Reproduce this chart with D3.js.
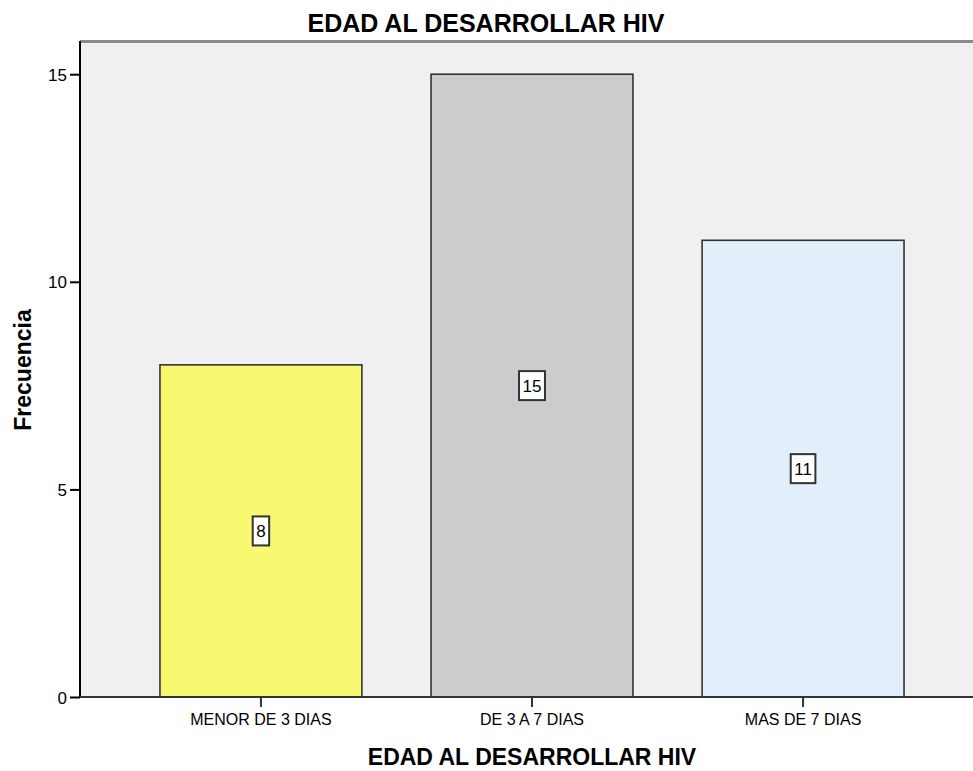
<!DOCTYPE html>
<html>
<head>
<meta charset="utf-8">
<script src="https://cdn.jsdelivr.net/npm/d3@7/dist/d3.min.js"></script>
<style>
  body { margin: 0; background: #fff; }
  svg text { font-family: "Liberation Sans", Arial, sans-serif; fill: #000; }
</style>
</head>
<body>
<svg id="chart" width="973" height="771"></svg>
<script>
const categories = ["MENOR DE 3 DIAS", "DE 3 A 7 DIAS", "MAS DE 7 DIAS"];
const counts = [8, 15, 11];
const barColors = ["#f9f871", "#cccccc", "#e2eefa"];
const yTicks = [0, 5, 10, 15];

const margin = { top: 41, right: -11, bottom: 74, left: 80 };
const width = 973 - margin.left - margin.right;
const height = 771 - margin.top - margin.bottom;

const svg = d3.select("#chart");
const g = svg.append("g").attr("transform", `translate(${margin.left},${margin.top})`);

const x = d3.scaleBand().domain(categories).range([0, width]).paddingInner(0.255).paddingOuter(0.295);
const y = d3.scaleLinear().domain([0, 15.8]).range([height, 0]);

// plot background
g.append("rect").attr("width", width).attr("height", height).attr("fill", "#f0f0f0");
g.append("line").attr("x1", 0).attr("x2", width).attr("y1", 0.5).attr("y2", 0.5)
  .attr("stroke", "#8a8a8a").attr("stroke-width", 3);

// bars
g.selectAll("rect.bar")
  .data(counts)
  .join("rect")
  .attr("class", "bar")
  .attr("x", (d, i) => x(categories[i]))
  .attr("y", (d) => y(d))
  .attr("width", x.bandwidth())
  .attr("height", (d) => height - y(d))
  .attr("fill", (d, i) => barColors[i])
  .attr("stroke", "#333")
  .attr("stroke-width", 1.6);

// value labels
const labels = g.selectAll("g.lbl")
  .data(counts)
  .join("g")
  .attr("class", "lbl")
  .attr("transform", (d, i) => `translate(${x(categories[i]) + x.bandwidth() / 2},${y(d / 2)})`);

labels.append("text")
  .attr("text-anchor", "middle")
  .attr("dy", "0.36em")
  .attr("font-size", 17)
  .text((d) => d)
  .each(function () {
    const b = this.getBBox();
    d3.select(this.parentNode).insert("rect", "text")
      .attr("x", b.x - 3.5).attr("y", -14.5)
      .attr("width", b.width + 7).attr("height", 29)
      .attr("fill", "#fff").attr("stroke", "#333").attr("stroke-width", 2);
  });

// axes
const yAxis = g.append("g").call(d3.axisLeft(y).tickValues(yTicks).tickSize(10).tickFormat(d3.format("d")));
yAxis.select(".domain").remove();
yAxis.selectAll(".tick line").attr("stroke", "#000").attr("stroke-width", 2);
yAxis.selectAll(".tick text").attr("font-size", 17).attr("x", -13).attr("dy", "0.36em")
  .style("font-family", "Liberation Sans, Arial, sans-serif");

const xAxis = g.append("g").attr("transform", `translate(0,${height})`)
  .call(d3.axisBottom(x).tickSize(10));
xAxis.select(".domain").remove();
xAxis.selectAll(".tick line").attr("stroke", "#333").attr("stroke-width", 2);
xAxis.selectAll(".tick text").attr("font-size", 16).attr("y", 28).attr("dy", 0)
  .style("font-family", "Liberation Sans, Arial, sans-serif");

g.append("line").attr("x1", 0).attr("x2", 0).attr("y1", 0).attr("y2", height)
  .attr("stroke", "#000").attr("stroke-width", 2);
g.append("line").attr("x1", 0).attr("x2", width).attr("y1", height).attr("y2", height)
  .attr("stroke", "#333").attr("stroke-width", 2);

// titles
svg.append("text").attr("x", 486).attr("y", 32).attr("text-anchor", "middle")
  .attr("font-size", 25).attr("font-weight", "bold").text("EDAD AL DESARROLLAR HIV");

svg.append("text").attr("x", 532).attr("y", 765).attr("text-anchor", "middle")
  .attr("font-size", 23).attr("font-weight", "bold").text("EDAD AL DESARROLLAR HIV");

svg.append("text").attr("transform", "translate(31,370) rotate(-90)")
  .attr("text-anchor", "middle")
  .attr("font-size", 23).attr("font-weight", "bold").text("Frecuencia");
</script>
</body>
</html>
